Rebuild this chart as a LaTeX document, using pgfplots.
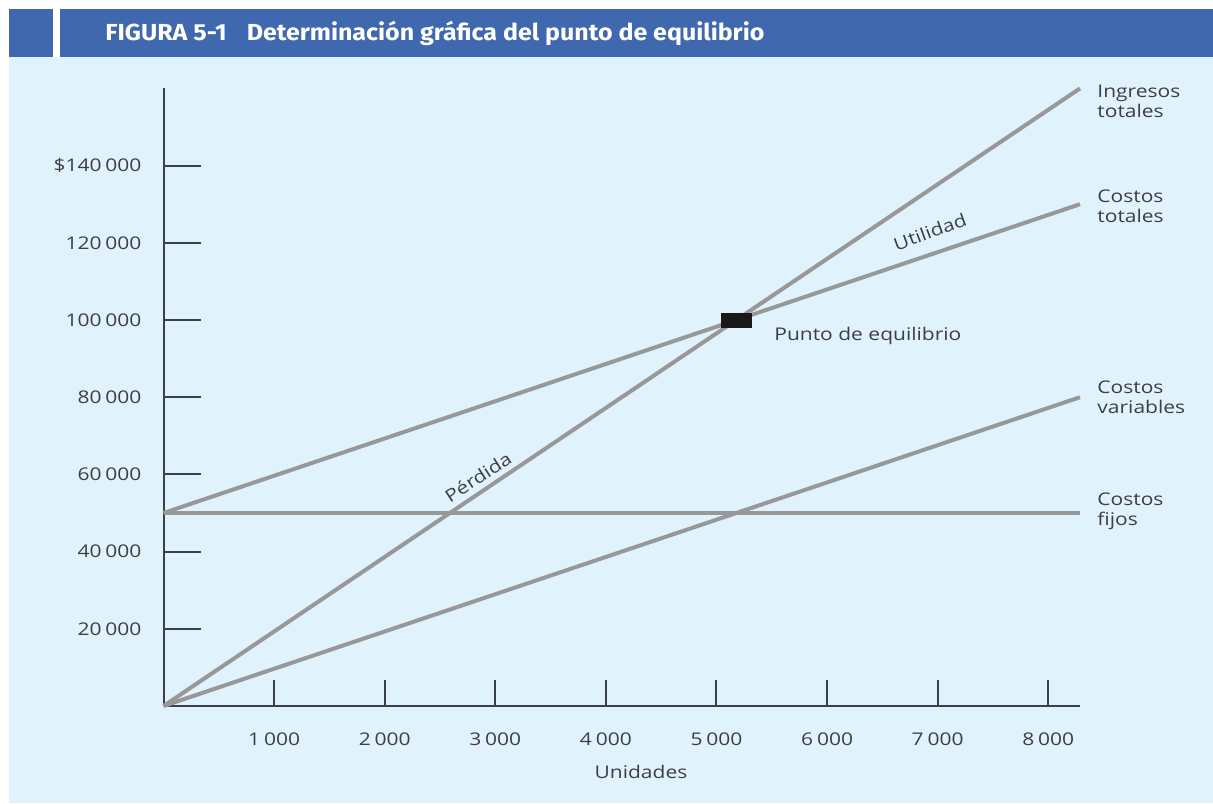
\documentclass[border=0pt]{standalone}
\usepackage{pgfplots}
\pgfplotsset{compat=1.18}
\usepackage{fontspec}
\usepackage{graphicx}
\setmainfont{Open Sans}[FakeStretch=1.2]
\newfontfamily\titlefont{Fira Sans}
\definecolor{hdr}{RGB}{64,104,175}
\definecolor{bgblue}{RGB}{224,243,252}
\definecolor{lgray}{RGB}{152,152,152}
\definecolor{axcol}{RGB}{58,63,72}
\definecolor{txt}{RGB}{62,62,66}
\newcommand{\thsp}{\hspace{0.22em}}
\begin{document}
\begin{tikzpicture}
\useasboundingbox (0,0) rectangle (606.5pt,-401.5pt);
\begin{scope}[x=0.5pt,y=-0.5pt]
\fill[white] (0,0) rectangle (1213,803);
\fill[hdr] (9,9) rectangle (53,57);
\fill[hdr] (60,9) rectangle (1213,57);
\fill[bgblue] (9,57) rectangle (1213,803);
\node[anchor=west,inner sep=0pt,text=white] at (105,33)
  {\resizebox{329.5pt}{\height}{\titlefont\fontsize{11.6pt}{13pt}\selectfont\bfseries FIGURA 5-1\hspace{0.8em}Determinación gráfica del punto de equilibrio}};
\end{scope}
\begin{axis}[
  at={(81.75pt,-353pt)}, anchor=south west,
  scale only axis, width=458.25pt, height=308.8pt,
  xmin=0, xmax=8287, ymin=0, ymax=160000,
  scaled x ticks=false, scaled y ticks=false,
  axis lines=left,
  axis line style={-, draw=axcol, line width=1pt},
  clip=false,
  tick align=inside,
  xtick={1000,2000,3000,4000,5000,6000,7000,8000},
  xticklabels={1\thsp000,2\thsp000,3\thsp000,4\thsp000,5\thsp000,6\thsp000,7\thsp000,8\thsp000},
  ytick={20000,40000,60000,80000,100000,120000,140000},
  yticklabels={20\thsp000,40\thsp000,60\thsp000,80\thsp000,100\thsp000,120\thsp000,\$140\thsp000},
  x tick style={draw=axcol, line width=1pt, /pgfplots/major tick length=13pt},
  y tick style={draw=axcol, line width=1pt, /pgfplots/major tick length=18.5pt},
  xticklabel style={font=\fontsize{8.75pt}{10pt}\selectfont, text=txt, yshift=-10pt},
  yticklabel style={font=\fontsize{8.75pt}{10pt}\selectfont, text=txt, xshift=-7.5pt},
]
% Ingresos totales
\addplot[lgray, line width=2pt] coordinates {(0,0) (8287,160000)};
% Costos totales
\addplot[lgray, line width=2pt] coordinates {(0,50000) (8287,130000)};
% Costos variables
\addplot[lgray, line width=2pt] coordinates {(0,0) (8287,80000)};
% Costos fijos
\addplot[lgray, line width=2pt] coordinates {(0,50000) (8287,50000)};
% Punto de equilibrio
\addplot[only marks, mark=square*, mark size=3.5pt, mark options={xscale=2.14, fill=black!90, draw=black!90}] coordinates {(5179,100000)};

\begin{scope}[every node/.style={font=\fontsize{8.75pt}{10pt}\selectfont, text=txt, inner sep=0pt, align=left}]
\node[anchor=west, xshift=8.5pt] at (axis cs:8287,156736) {Ingresos\\totales};
\node[anchor=west, xshift=8.5pt] at (axis cs:8287,129534) {Costos\\totales};
\node[anchor=west, xshift=8.5pt] at (axis cs:8287,80052) {Costos\\variables};
\node[anchor=west, xshift=8.5pt] at (axis cs:8287,50389) {Costos\\fijos};
\node[anchor=west] at (axis cs:5520,95855) {Punto de equilibrio};
\node[rotate=20] at (axis cs:6930,122800) {Utilidad};
\node[rotate=33] at (axis cs:2844,59326) {Pérdida};
\node at (axis cs:4317,0) [yshift=-33pt] {Unidades};
\end{scope}
\end{axis}
\end{tikzpicture}
\end{document}
